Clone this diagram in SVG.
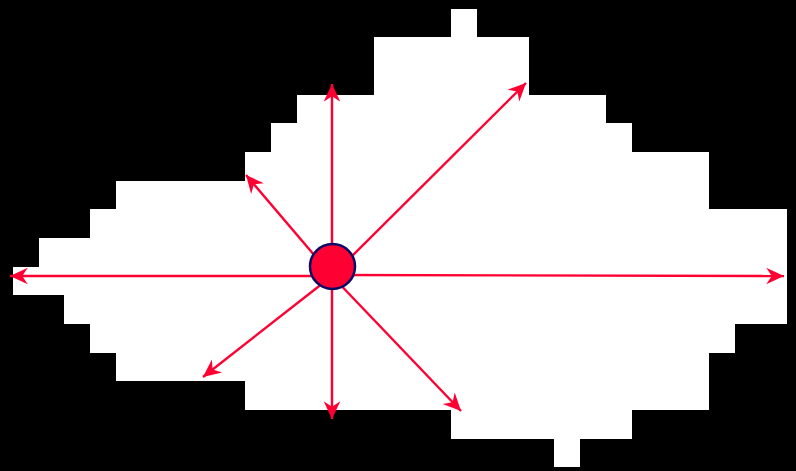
<svg xmlns="http://www.w3.org/2000/svg" width="796" height="471" viewBox="0 0 796 471">
<defs>
<style>
.edge{stroke:#ff0033;stroke-width:2.4;fill:none;marker-end:url(#ah)}
.node{fill:#ff0033;stroke:#0a0a66;stroke-width:2.5}
</style>
<marker id="ah" markerUnits="userSpaceOnUse" markerWidth="20" markerHeight="20" viewBox="-17 -9 18 18" refX="0" refY="0" orient="auto">
<path d="M0,0 L-16,-7.5 L-11,0 L-16,7.5 Z" fill="#ff0033"/>
</marker>
</defs>
<rect x="0" y="0" width="796" height="471" fill="#000"/>
<g id="region">
<polygon fill="#fff" points="451,9 477,9 477,37 529,37 529,95 606,95 606,123 632,123 632,152 709,152 709,209 787,209 787,324 735,324 735,353 709,353 709,410 632,410 632,439 580,439 580,467 554,467 554,439 451,439 451,410 245,410 245,381 116,381 116,353 90,353 90,324 64,324 64,295 13,295 13,267 39,267 39,238 90,238 90,209 116,209 116,181 245,181 245,152 271,152 271,123 297,123 297,95 374,95 374,37 451,37"/>
</g>
<g id="connectors">
<line class="edge" x1="332" y1="276" x2="332" y2="84"/>
<line class="edge" x1="332" y1="276" x2="526" y2="83"/>
<line class="edge" x1="332" y1="276" x2="246" y2="175"/>
<line class="edge" x1="332" y1="276" x2="10" y2="276"/>
<line class="edge" x1="332" y1="275" x2="784" y2="276"/>
<line class="edge" x1="332" y1="276" x2="203" y2="377"/>
<line class="edge" x1="332" y1="276" x2="332" y2="419"/>
<line class="edge" x1="332" y1="276" x2="461" y2="411"/>
</g>
<g id="center">
<circle class="node" cx="332.5" cy="266.5" r="22.5"/>
</g>
</svg>
